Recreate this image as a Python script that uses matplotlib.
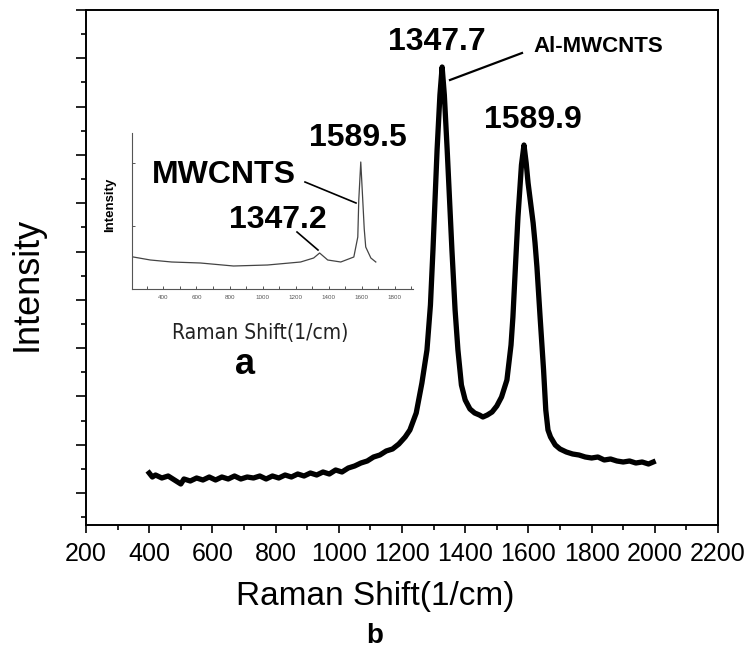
import numpy as np
import matplotlib
matplotlib.use("Agg")
import matplotlib.pyplot as plt
from matplotlib.ticker import MultipleLocator

plt.rcParams['font.family'] = ['Liberation Sans', 'DejaVu Sans']

# Al-MWCNTS spectrum (main panel b), intensity in arbitrary units
shift_b = [400, 410, 420, 440, 460, 480, 500, 510, 530, 550, 570, 590, 610, 630, 650,
           670, 690, 710, 730, 750, 770, 790, 810, 830, 850, 870, 890, 910, 930, 950,
           970, 990, 1010, 1030, 1050, 1070, 1090, 1110, 1130, 1150, 1170, 1190, 1210,
           1225, 1245, 1263, 1279, 1290, 1298, 1311, 1320, 1327, 1334, 1343, 1358, 1368,
           1377, 1388, 1400, 1415, 1430, 1445, 1456, 1470, 1485, 1500, 1515, 1532, 1545,
           1551, 1560, 1567, 1578, 1586, 1593, 1599, 1607, 1615, 1621, 1627, 1637, 1648,
           1655, 1662, 1670, 1685, 1700, 1720, 1740, 1760, 1780, 1800, 1820, 1840, 1860,
           1880, 1900, 1920, 1940, 1960, 1980, 1995]
inten_b = [52, 48, 50, 47, 49, 45, 41, 46, 44, 47, 45, 48, 45, 48, 46,
           49, 46, 48, 47, 49, 46, 49, 47, 50, 48, 51, 49, 52, 50, 53,
           51, 55, 53, 57, 59, 62, 64, 68, 70, 74, 76, 81, 88,
           95, 112, 142, 175, 220, 275, 375, 430, 458, 430, 375, 275, 215,
           175, 140, 125, 116, 112, 110, 108, 110, 113, 119, 128, 145, 180,
           208, 265, 308, 360, 380, 362, 342, 322, 302, 282, 258, 208, 155,
           115, 95, 88, 80, 76, 73, 71, 70, 68, 67, 68, 65, 66,
           64, 63, 64, 62, 63, 61, 63]

# MWCNTS spectrum (inset a)
shift_a = [218, 321, 450, 624, 824, 1030, 1230, 1309, 1345, 1394, 1473, 1552, 1576,
           1582, 1594, 1606, 1615, 1624, 1655, 1685]
inten_a = [32, 29, 27, 26, 23, 24, 27, 31, 36, 29, 27, 32, 52,
           89, 127, 89, 60, 42, 31, 27]

W, H = 752, 657
fig = plt.figure(figsize=(W / 100, H / 100), dpi=100)


def px(x, y):
    return x / W, 1 - y / H


ax = fig.add_axes([86 / W, 1 - 525 / H, 632 / W, 515 / H])
ax.plot(shift_b, inten_b, color='black', lw=3.8, solid_joinstyle='round')
ax.set_xlim(200, 2200)
ax.set_ylim(0, 515)
ax.xaxis.set_major_locator(MultipleLocator(200))
ax.xaxis.set_minor_locator(MultipleLocator(100))
ax.set_yticks(515 - 48.3 * np.arange(11))
ax.set_yticks(515 - 48.3 * np.arange(11) - 24.15, minor=True)
ax.set_yticklabels([])
ax.tick_params(which='major', direction='out', length=6, width=1.2, labelsize=18, pad=6)
ax.tick_params(which='minor', direction='out', length=3.5, width=1.2)
ax.tick_params(axis='y', which='major', length=7)
for s in ax.spines.values():
    s.set_linewidth(1.4)

fig.text(*px(375, 597), 'Raman Shift(1/cm)', fontsize=24, ha='center', va='center')
fig.text(*px(27, 284), 'Intensity', fontsize=26, rotation=90, ha='center', va='center')
fig.text(*px(375, 636), 'b', fontsize=20, fontweight='bold', ha='center', va='center')

# peak labels on main panel
fig.text(*px(437, 42), '1347.7', fontsize=23, fontweight='bold', ha='center', va='center')
fig.text(*px(533, 120), '1589.9', fontsize=23, fontweight='bold', ha='center', va='center')
fig.text(*px(598, 47), 'Al-MWCNTS', fontsize=16, fontweight='bold', ha='center', va='center')
fig.add_artist(plt.Line2D([450 / W, 522 / W], [1 - 80 / H, 1 - 53 / H], color='black', lw=1.6))

# inset
axi = fig.add_axes([132 / W, 1 - 289 / H, 281 / W, 156 / H], facecolor='none')
axi.plot(shift_a, inten_a, color='#444444', lw=0.9)
axi.set_xlim(210, 1910)
axi.set_ylim(0, 156)
axi.spines['top'].set_visible(False)
axi.spines['right'].set_visible(False)
for s in ('left', 'bottom'):
    axi.spines[s].set_linewidth(0.8)
    axi.spines[s].set_color('#555555')
axi.xaxis.set_minor_locator(MultipleLocator(100))
axi.set_xticks(np.arange(400, 1801, 200))
axi.set_yticks([63, 126])
axi.set_yticklabels([])
axi.tick_params(which='both', direction='in', length=2, width=0.7, colors='#555555',
                labelsize=4.5, pad=4)

fig.text(*px(260, 333), 'Raman Shift(1/cm)', fontsize=15, ha='center', va='center',
         family='DejaVu Sans', fontstretch='condensed', color='#222222')
fig.text(*px(110, 205), 'Intensity', fontsize=9.5, fontweight='bold', rotation=90,
         ha='center', va='center')
fig.text(*px(245, 365), 'a', fontsize=26, fontweight='bold', ha='center', va='center')

fig.text(*px(358, 138), '1589.5', fontsize=23, fontweight='bold', ha='center', va='center')
fig.text(*px(224, 175), 'MWCNTS', fontsize=23, fontweight='bold', ha='center', va='center')
fig.text(*px(278, 220), '1347.2', fontsize=23, fontweight='bold', ha='center', va='center')
fig.add_artist(plt.Line2D([305 / W, 356 / W], [1 - 182 / H, 1 - 203 / H], color='black', lw=1.2))
fig.add_artist(plt.Line2D([297 / W, 318 / W], [1 - 232 / H, 1 - 250 / H], color='black', lw=1.2))

fig.savefig('out.png', dpi=100)
